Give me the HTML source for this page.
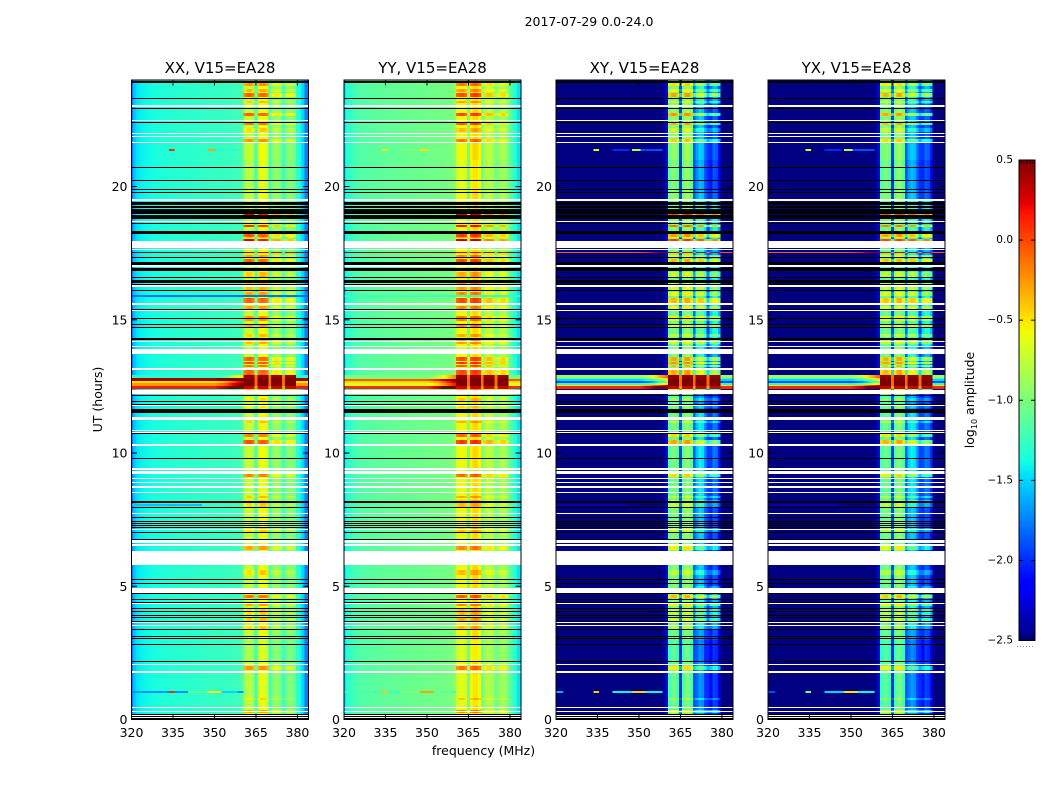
<!DOCTYPE html>
<html lang="en">
<head>
<meta charset="utf-8">
<title>2017-07-29 0.0-24.0</title>
<style>
html,body{margin:0;padding:0;background:#fff;width:1050px;height:800px;overflow:hidden}
svg{display:block}
text{font-family:"DejaVu Sans","Liberation Sans",sans-serif;fill:#000}
.tick{font-size:12.5px}
.title{font-size:15px}
.cb{font-size:10.5px}
.cell{shape-rendering:crispEdges}
</style>
</head>
<body>
<svg id="chart" width="1050" height="800" viewBox="0 0 1050 800" xmlns="http://www.w3.org/2000/svg">
  <text x="589" y="26" text-anchor="middle" font-size="12.5">2017-07-29 0.0-24.0</text>
  <text x="483.5" y="755" text-anchor="middle" font-size="12.5">frequency (MHz)</text>
  <text transform="translate(102,399.5) rotate(-90)" text-anchor="middle" font-size="12.5">UT (hours)</text>
  <text transform="translate(974,400) rotate(-90)" text-anchor="middle" font-size="12.5">log<tspan font-size="8" dy="3">10</tspan><tspan dy="-3"> amplitude</tspan></text>
  <g id="panels"></g>
  <g id="colorbar"></g>
</svg>
<script>
// ---------- data ----------
const panelTitles = ["XX, V15=EA28", "YY, V15=EA28", "XY, V15=EA28", "YX, V15=EA28"];
const panelKeys = ["XX", "YY", "XY", "YX"];
const freqs = [320,321,322,323,324,325,326,327,328,329,330,331,332,333,334,335,336,337,338,339,340,341,342,343,344,345,346,347,348,349,350,351,352,353,354,355,356,357,358,359,360,361,362,363,364,365,366,367,368,369,370,371,372,373,374,375,376,377,378,379,380,381,382,383];
const xTicks = [320, 335, 350, 365, 380];
const yTicks = [0, 5, 10, 15, 20];
const cbTicks = [0.5, 0, -0.5, -1, -1.5, -2, -2.5];

// quiet log10 amplitude per channel
const baseXX = [-1.75,-1.55,-1.46,-1.43,-1.41,-1.4,-1.39,-1.38,-1.37,-1.36,-1.35,-1.34,-1.34,-1.33,-1.33,-1.32,-1.32,-1.31,-1.31,-1.3,-1.3,-1.3,-1.3,-1.29,-1.29,-1.28,-1.28,-1.28,-1.27,-1.27,-1.27,-1.26,-1.26,-1.26,-1.25,-1.25,-1.25,-1.24,-1.24,-1.22,-1.15,-0.82,-0.72,-0.72,-0.82,-1.2,-0.68,-0.58,-0.58,-0.66,-1.2,-0.98,-0.9,-0.9,-0.98,-1.2,-1.02,-0.95,-0.95,-1.05,-1.28,-1.38,-1.5,-1.75];
const baseYY = [-1.5,-1.35,-1.28,-1.24,-1.2,-1.18,-1.16,-1.15,-1.14,-1.14,-1.13,-1.12,-1.12,-1.11,-1.11,-1.1,-1.1,-1.1,-1.09,-1.09,-1.09,-1.08,-1.08,-1.08,-1.07,-1.07,-1.07,-1.06,-1.06,-1.06,-1.05,-1.05,-1.05,-1.04,-1.04,-1.04,-1.03,-1.03,-1.02,-1.0,-0.95,-0.66,-0.56,-0.56,-0.66,-1.02,-0.55,-0.45,-0.45,-0.55,-1.02,-0.85,-0.76,-0.76,-0.85,-1.02,-0.92,-0.82,-0.82,-0.95,-1.12,-1.22,-1.32,-1.45];
const baseXY = [-2.5,-2.5,-2.5,-2.5,-2.5,-2.5,-2.5,-2.5,-2.5,-2.5,-2.5,-2.5,-2.5,-2.5,-2.5,-2.5,-2.5,-2.5,-2.5,-2.5,-2.5,-2.5,-2.5,-2.5,-2.5,-2.5,-2.5,-2.5,-2.5,-2.5,-2.5,-2.5,-2.5,-2.5,-2.5,-2.5,-2.5,-2.5,-2.48,-2.45,-2.2,-1.08,-0.95,-0.95,-1.12,-1.95,-1.1,-0.88,-0.88,-1.08,-1.85,-1.45,-1.3,-1.35,-1.6,-1.95,-1.75,-1.55,-1.6,-1.85,-2.5,-2.5,-2.5,-2.5];
const baseYX = [-2.5,-2.5,-2.5,-2.5,-2.5,-2.5,-2.5,-2.5,-2.5,-2.5,-2.5,-2.5,-2.5,-2.5,-2.5,-2.5,-2.5,-2.5,-2.5,-2.5,-2.5,-2.5,-2.5,-2.5,-2.5,-2.5,-2.5,-2.5,-2.5,-2.5,-2.5,-2.5,-2.5,-2.5,-2.5,-2.5,-2.5,-2.5,-2.48,-2.45,-2.2,-1.12,-1.0,-1.0,-1.15,-1.95,-1.12,-0.92,-0.92,-1.12,-1.85,-1.4,-1.3,-1.35,-1.55,-1.95,-1.7,-1.55,-1.6,-1.8,-2.5,-2.5,-2.5,-2.5];

// response of each of the four active sub-bands to the activity level
const stripStarts = [361, 366, 371, 376];
const gainXX = [1.2, 0.9, 0.7, 0.65];
const gainYY = [1.05, 0.95, 0.7, 0.65];
const gainXY = [1.2, 1.15, 1.3, 1.4];
const gainYX = [1.2, 1.15, 1.3, 1.4];
const gapGain = [0.4, 0.4, 0.9, 0.9];
const quietLevel = 0.3;

// slow drift of the cross-hand sub-bands: [startHour, endHour, shift12, shift3, shift4]
const crossDrift = [
 [0,3.5,-0.05,-0.3,-0.3],[5,8.2,0,-0.2,-0.3],[8.2,11.5,-0.05,-0.1,-0.2],[11.6,12.3,-0.1,-0.3,-0.3],[14,17.4,-0.05,0.2,0.25],[17.8,19.5,0,0.15,0.2],[19.5,23.1,0.05,-0.2,-0.25]
];

// [startHour, endHour, activity level]
const activityEvents = [
 [0.24,0.36,0.65],[0.5,0.74,0.25],[0.74,0.8,0.45],[0.8,1.7,0.25],[1.84,1.99,0.7],[2.2,3.0,0.22],[3.4,3.5,0.5],[3.71,3.8,0.55],[3.92,4.17,0.5],[4.26,4.36,0.65],[4.55,4.68,0.8],[5.42,5.6,0.5],[6.36,6.51,0.65],[7.05,7.2,0.5],[7.99,8.24,0.5],
 [8.3,8.37,0.55],[9.1,9.24,0.75],[10.34,10.49,0.9],[10.59,10.71,0.75],[11.12,11.22,0.55],[11.68,11.8,0.4],[11.93,12.05,0.45],[12.3,12.43,0.6],[12.87,13.12,0.85],[13.22,13.3,0.8],[13.34,13.43,0.9],[13.46,13.59,0.85],[14.1,14.34,0.6],[14.37,14.45,0.55],[14.74,14.8,0.65],[14.97,15.14,0.7],[15.39,15.51,0.65],[15.63,15.8,0.85],[15.9,16.05,0.65],
 [16.1,16.4,0.6],[16.62,16.8,0.55],[17.18,17.27,0.85],[17.37,17.42,0.65],[17.95,18.02,1.15],[18.06,18.12,0.6],[18.12,18.22,0.9],[18.47,18.56,1.0],[18.94,18.97,1.15],[19.31,19.37,0.6],[19.9,21.0,0.25],[21.68,21.8,0.7],[22.06,22.18,0.5],[22.3,22.43,0.8],[22.65,22.77,0.85],[23.12,23.22,0.55],[23.35,23.5,0.85],[23.56,23.68,0.6],[23.77,23.87,0.7]
];

// broadband bursts: [startHour, endHour, bgXX, bgYY, bgXY, bgYX, subbandValue]
const bursts = [
 [12.4,12.5,0.15,0.1,0.1,0.1,0.3],
 [12.5,12.54,-0.25,-0.65,-0.5,-0.5,0.5],
 [12.54,12.62,-0.25,-0.65,-1.3,-1.3,0.5],
 [12.62,12.7,-0.5,-0.45,-1.9,-1.9,0.5],
 [12.7,12.78,0.4,-0.05,-1.5,-1.5,0.5],
 [12.78,12.84,0.4,-1.0,-1.2,-1.2,0.5],
 [12.84,12.92,-1.3,-1.0,-0.9,-0.9,0.45],
 [17.5,17.56,0.4,0.4,-0.05,-0.05,0.3]
];
const burstRamp = [0,0.05,0.1,0.15,0.2,0.3,0.4,0.5,0.6,0.7];

// narrow interference: [startHour, endHour, f0, f1, XX, YY, XY, YX] (null leaves value)
const spots = [
 [1.0,1.06,320,360,-1.7,-1.2,null,null],
 [1.0,1.06,320,322,null,null,-1.6,-1.9],
 [1.0,1.06,334,335,0.1,-0.4,-0.4,-1.0],
 [1.0,1.06,341,347,-1.1,-1.0,-1.4,-1.5],
 [1.0,1.06,348,352,-0.5,-0.3,-0.45,-0.5],
 [1.0,1.06,353,358,-1.5,-1.1,-1.4,-1.4],
 [8.02,8.08,320,345,-1.55,null,-2.35,-2.35],
 [15.88,15.94,320,384,-1.8,-1.25,null,null],
 [21.35,21.42,334,335,0.1,-0.5,-0.6,-0.7],
 [21.35,21.42,341,346,-1.3,-1.0,-2.0,-2.0],
 [21.35,21.42,348,350,-0.3,-0.5,-0.8,-0.8],
 [21.35,21.42,351,358,-1.3,-1.0,-1.9,-1.9]
];

// flagged time ranges [startHour, endHour]
const whiteBands = [
 [0.06,0.09],[0.13,0.17],[0.28,0.32],[0.42,0.46],[1.73,1.81],[2.05,2.08],[3.52,3.56],[3.61,3.66],[4.33,4.37],[4.75,4.95],[5.81,6.32],[6.52,6.57],[6.63,6.72],[7.11,7.15],[7.7,7.74],
 [8.51,8.55],[8.69,8.77],[8.87,8.91],[9.01,9.05],[9.21,9.32],[9.37,9.43],[10.26,10.34],[10.76,10.8],[10.83,10.86],[11.24,11.35],[11.75,11.79],[12.2,12.36],[13.11,13.19],[13.73,13.89],[13.97,14.01],[14.15,14.2],[15.33,15.37],[15.55,15.63],
 [16.22,16.3],[16.98,17.04],[17.61,17.67],[17.7,17.94],[18.66,18.72],[19.46,19.53],[21.64,21.68],[21.87,21.91],[21.97,22.01],[22.45,22.5],[22.97,23.06]
];
const blackBands = [
 [0.02,0.06],[0.09,0.13],[0.17,0.21],[2.15,2.18],[2.8,2.83],[3.02,3.06],[3.08,3.12],[3.35,3.38],[3.66,3.7],[3.81,3.85],[3.9,3.93],[4.05,4.08],[4.16,4.2],[4.38,4.42],[4.48,4.52],[4.71,4.75],[5.08,5.11],[5.23,5.27],[6.72,6.76],[7.01,7.05],[7.17,7.21],[7.26,7.29],[7.34,7.36],[7.41,7.45],[7.59,7.61],[7.94,7.97],[8.12,8.2],
 [9.79,9.82],[10.72,10.76],[11.5,11.64],[11.8,11.84],[11.91,11.95],[12.15,12.19],[14.24,14.3],[14.69,14.73],[14.8,14.84],[15.03,15.07],[15.35,15.39],[16.08,16.12],[16.3,16.34],[16.39,16.49],[16.56,16.59],[16.82,16.93],[17.06,17.18],[17.31,17.37],
 [18.23,18.32],[18.6,18.64],[18.77,18.93],[18.97,19.16],[19.2,19.26],[19.31,19.41],[19.76,19.79],[19.87,19.91],[20.21,20.24],[20.69,20.72],[22.38,22.42],[22.91,22.95],[23.28,23.32],[23.9,23.96]
];

// colormap knots (jet)
const jetR = [[0,0],[0.35,0],[0.66,1],[0.89,1],[1,0.5]];
const jetG = [[0,0],[0.125,0],[0.375,1],[0.64,1],[0.91,0],[1,0]];
const jetB = [[0,0.5],[0.11,1],[0.34,1],[0.65,0],[1,0]];
const colorMin = -2.5;
const colorMax = 0.5;

// ---------- layout and axis functions ----------
const svgNS = "http://www.w3.org/2000/svg";
const panelLefts = [131.5, 344, 556, 768];
const panelWidth = 177, plotTop = 80, plotBottom = 719.5;
const xMin = 320, xMax = 384, hMin = 0, hMax = 24;
function xScale(p, f) { return panelLefts[p] + (f - xMin) / (xMax - xMin) * panelWidth; }
function yScale(h) { return plotBottom - (h - hMin) / (hMax - hMin) * (plotBottom - plotTop); }
const cbLeft = 1019, cbWidth = 16, cbTop = 160, cbBottom = 640.5;
function cbScale(v) { return cbBottom - (v - colorMin) / (colorMax - colorMin) * (cbBottom - cbTop); }

function make(tag, parent) {
  const el = document.createElementNS(svgNS, tag);
  parent.appendChild(el);
  return el;
}
function setAll(el, attrs) { for (const k in attrs) el.setAttribute(k, attrs[k]); return el; }
function knot(tbl, t) {
  for (let i = 1; i < tbl.length; i++) {
    if (t <= tbl[i][0]) {
      const a = tbl[i - 1], b = tbl[i];
      return a[1] + (b[1] - a[1]) * (t - a[0]) / (b[0] - a[0]);
    }
  }
  return tbl[tbl.length - 1][1];
}
function jet(v) {
  const t = Math.min(1, Math.max(0, (v - colorMin) / (colorMax - colorMin)));
  const c = [jetR, jetG, jetB].map(tb => Math.round(knot(tb, t) * 255));
  return "rgb(" + c.join(",") + ")";
}

const bases = { XX: baseXX, YY: baseYY, XY: baseXY, YX: baseYX };
const gains = { XX: gainXX, YY: gainYY, XY: gainXY, YX: gainYX };

function levelAt(h) {
  let lv = quietLevel;
  for (const e of activityEvents) if (h >= e[0] && h < e[1]) lv = e[2];
  return lv;
}
function burstAt(h) {
  for (const b of bursts) if (h >= b[0] && h < b[1]) return b;
  return null;
}
function stripIndex(f) {
  for (let i = 0; i < stripStarts.length; i++) if (f >= stripStarts[i] && f < stripStarts[i] + 4) return i;
  return -1;
}
function driftAt(h, s) {
  for (const d of crossDrift) if (h >= d[0] && h < d[1]) return s < 2 ? d[2] : d[s + 1];
  return 0;
}
function cellValue(p, ch, h) {
  const key = panelKeys[p], f = freqs[ch];
  let v = bases[key][ch];
  const s = stripIndex(f), inBand = f >= 361 && f <= 379;
  const b = burstAt(h);
  if (b) {
    if (inBand) v = s >= 0 ? b[6] : b[6] - 0.6;
    else {
      v = b[2 + p];
      if (f >= 350 && f < 360) v += burstRamp[f - 350];
      if (f === 360) v += 0.8;
    }
  } else {
    const lv = levelAt(h);
    if (s >= 0) {
      v += (lv - quietLevel) * gains[key][s];
      if (p >= 2) v += driftAt(h, s);
    } else if (inBand) v += (lv - quietLevel) * gapGain[p];
  }
  for (const sp of spots) {
    if (h >= sp[0] && h < sp[1] && f >= sp[2] && f <= sp[3] && sp[4 + p] !== null) v = sp[4 + p];
  }
  return v;
}

// row boundaries come from the event tables
const breakSet = new Set([hMin, hMax]);
for (const list of [activityEvents, bursts, spots, crossDrift]) for (const e of list) { breakSet.add(e[0]); breakSet.add(e[1]); }
const breaks = Array.from(breakSet).sort((a, b) => a - b);

const panelsGroup = document.getElementById("panels");
const defs = make("defs", document.getElementById("chart"));

function bandRect(el, p, band, color) {
  const top = Math.round(yScale(band[1]));
  const bottom = Math.round(yScale(band[0]));
  setAll(el, { x: panelLefts[p], y: top, width: panelWidth, height: Math.max(1, bottom - top), fill: color });
}

panelKeys.forEach(function (key, p) {
  const g = make("g", panelsGroup);
  
  

  const clip = make("clipPath", defs);
  clip.setAttribute("id", "clip" + p);
  setAll(make("rect", clip), { x: panelLefts[p], y: plotTop, width: panelWidth, height: plotBottom - plotTop });

  const cells = make("g", g);
  
  
  cells.setAttribute("clip-path", "url(#clip" + p + ")");
  cells.setAttribute("class", "cell");

  for (let r = 0; r < breaks.length - 1; r++) {
    const h0 = breaks[r], h1 = breaks[r + 1], mid = (h0 + h1) / 2;
    const yTop = Math.round(yScale(h1)), yBot = Math.max(yTop + 1, Math.round(yScale(h0)));
    let runStart = 0, runColor = jet(cellValue(p, 0, mid));
    for (let ch = 1; ch <= freqs.length; ch++) {
      const col = ch < freqs.length ? jet(cellValue(p, ch, mid)) : null;
      if (col !== runColor) {
        const x0 = xScale(p, runStart === 0 ? xMin : freqs[runStart] - 0.5);
        const x1 = xScale(p, ch === freqs.length ? xMax : freqs[ch] - 0.5);
        const cell = make("rect", cells);
        
        
        setAll(cell, { x: x0.toFixed(2), y: yTop, width: (x1 - x0).toFixed(2), height: yBot - yTop, fill: runColor });
        runStart = ch;
        runColor = col;
      }
    }
  }

  for (const band of whiteBands) {
    const el = make("rect", cells);
    
    
    bandRect(el, p, band, "#fff");
  }
  for (const band of blackBands) {
    const el = make("rect", cells);
    
    
    bandRect(el, p, band, "#000");
  }

  // ticks
  for (const t of xTicks) {
    const px = xScale(p, t);
    const bottom = make("line", g);
    
    
    setAll(bottom, { x1: px, x2: px, y1: plotBottom, y2: plotBottom - 5.5, stroke: "#000", "stroke-width": 1 });
    const top = make("line", g);
    
    
    setAll(top, { x1: px, x2: px, y1: plotTop, y2: plotTop + 5.5, stroke: "#000", "stroke-width": 1 });
    const lab = make("text", g);
    
    
    setAll(lab, { x: px, y: plotBottom + 17.5, "text-anchor": "middle", class: "tick" });
    lab.textContent = String(t);
  }
  for (const t of yTicks) {
    const py = yScale(t);
    const left = make("line", g);
    
    
    setAll(left, { x1: panelLefts[p], x2: panelLefts[p] + 5.5, y1: py, y2: py, stroke: "#000", "stroke-width": 1 });
    const right = make("line", g);
    
    
    setAll(right, { x1: panelLefts[p] + panelWidth, x2: panelLefts[p] + panelWidth - 5.5, y1: py, y2: py, stroke: "#000", "stroke-width": 1 });
    const lab = make("text", g);
    
    
    setAll(lab, { x: panelLefts[p] - 4, y: py + 4.5, "text-anchor": "end", class: "tick" });
    lab.textContent = String(t);
  }

  const spine = make("rect", g);
  
  
  setAll(spine, { x: panelLefts[p], y: plotTop, width: panelWidth, height: plotBottom - plotTop, fill: "none", stroke: "#000", "stroke-width": 1 });

  const title = make("text", g);
  
  
  setAll(title, { x: panelLefts[p] + panelWidth / 2, y: 73, "text-anchor": "middle", class: "title" });
  title.textContent = panelTitles[p];
});

// ---------- colorbar ----------
const cb = document.getElementById("colorbar");
const cbSteps = 240;
for (let i = 0; i < cbSteps; i++) {
  const v0 = colorMin + (colorMax - colorMin) * i / cbSteps;
  const v1 = colorMin + (colorMax - colorMin) * (i + 1) / cbSteps;
  const seg = make("rect", cb);
  
  
  setAll(seg, { x: cbLeft, y: cbScale(v1).toFixed(2), width: cbWidth, height: (cbScale(v0) - cbScale(v1) + 0.5).toFixed(2), fill: jet((v0 + v1) / 2), class: "cell" });
}
const cbEndMarks = [0.12, 0.3, 0.5, 0.7, 0.88];
for (const m of cbEndMarks) {
  const mx = cbLeft + m * cbWidth;
  const topMark = make("line", cb);
  
  
  setAll(topMark, { x1: mx, x2: mx, y1: cbTop, y2: cbTop + 4, stroke: "#000", "stroke-width": 0.7 });
  const botMark = make("line", cb);
  
  
  setAll(botMark, { x1: mx, x2: mx, y1: cbBottom, y2: cbBottom - 4, stroke: "#000", "stroke-width": 0.7 });
}
for (const t of cbTicks) {
  const py = cbScale(t);
  if (t !== colorMax && t !== colorMin) {
    const l = make("line", cb);
    
    
    setAll(l, { x1: cbLeft, x2: cbLeft + 4, y1: py, y2: py, stroke: "#000", "stroke-width": 1 });
    const r = make("line", cb);
    
    
    setAll(r, { x1: cbLeft + cbWidth, x2: cbLeft + cbWidth - 4, y1: py, y2: py, stroke: "#000", "stroke-width": 1 });
  }
  const lab = make("text", cb);
  
  
  setAll(lab, { x: cbLeft - 6, y: py + 3, "text-anchor": "end", class: "cb" });
  lab.textContent = (t < 0 ? "\u2212" : "") + Math.abs(t).toFixed(1);
}
const cbFrame = make("rect", cb);


setAll(cbFrame, { x: cbLeft, y: cbTop, width: cbWidth, height: cbBottom - cbTop, fill: "none", stroke: "#000", "stroke-width": 1 });
const cbDots = make("line", cb);


setAll(cbDots, { x1: 1017, x2: 1035, y1: 646.5, y2: 646.5, stroke: "#888", "stroke-width": 1, "stroke-dasharray": "1 2" });
</script>
</body>
</html>
